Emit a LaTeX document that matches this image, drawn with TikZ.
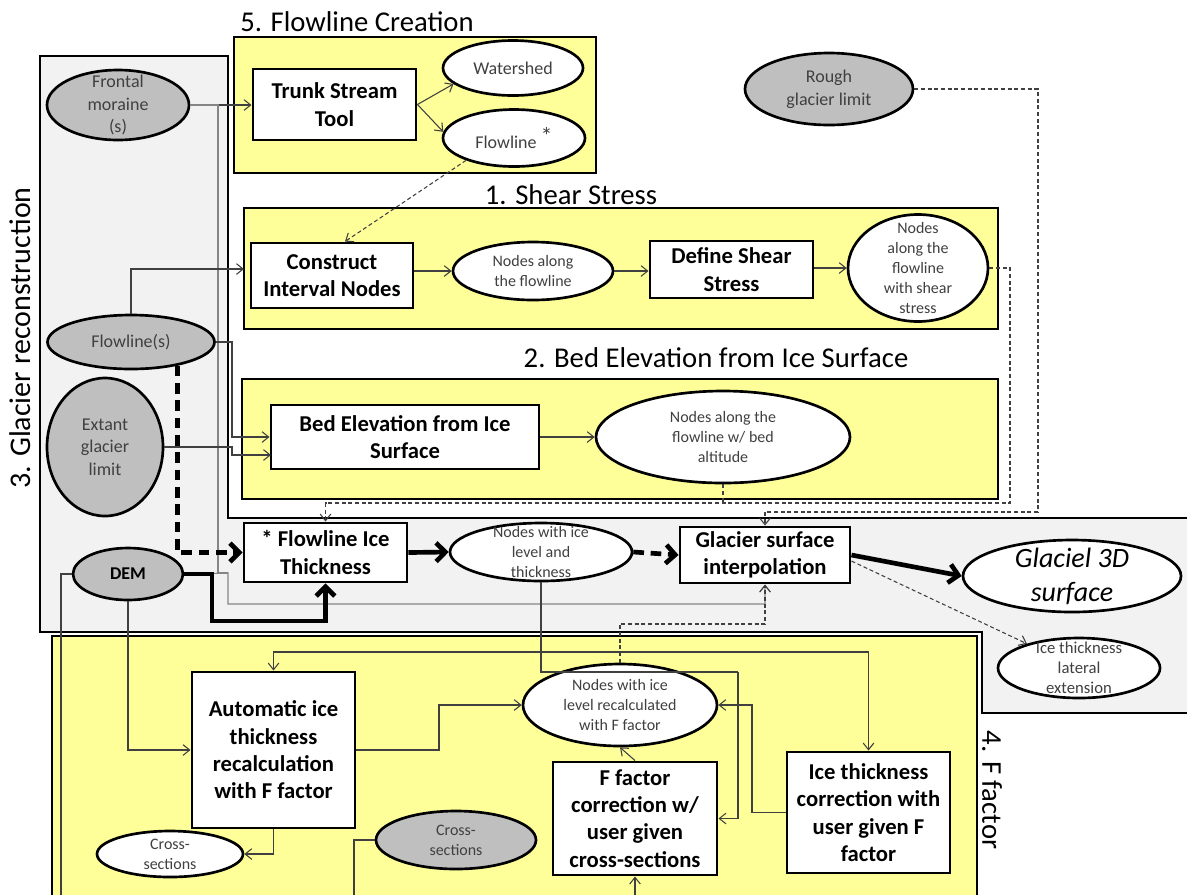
\documentclass[tikz,border=0pt]{standalone}
\usepackage{fontspec}
\setmainfont{Carlito}
\usetikzlibrary{shapes.geometric,arrows.meta}
\definecolor{yel}{HTML}{FFFF99}
\definecolor{gnode}{HTML}{BFBFBF}
\definecolor{greg}{HTML}{F2F2F2}
\definecolor{tgray}{HTML}{404040}
\definecolor{lcol}{HTML}{404040}
\definecolor{lgray}{HTML}{858585}
\begin{document}
\begin{tikzpicture}[x=0.75pt,y=-0.75pt,
  pbox/.style={draw, line width=2.2pt, fill=white, align=center, inner sep=0pt, font=\fontsize{17}{20.5}\selectfont\bfseries},
  ellw/.style={ellipse, draw, line width=2pt, fill=white, inner sep=0pt},
  ellg/.style={ellipse, draw, line width=2pt, fill=gnode, inner sep=0pt},
  etx/.style={align=center, text=tgray, font=\fontsize{13.5}{17}\selectfont, inner sep=0pt},
  esm/.style={align=center, text=tgray, font=\fontsize{12}{15}\selectfont, inner sep=0pt},
  sect/.style={draw, line width=2.2pt, fill=yel, inner sep=0pt},
  ttl/.style={font=\fontsize{21.5}{25}\selectfont, inner sep=0pt},
  ln/.style={draw=lcol, line width=0.8pt},
  lnl/.style={draw=lgray, line width=0.8pt},
  dsh/.style={draw=lcol, line width=0.8pt, dash pattern=on 3pt off 2pt},
  arr/.style={-{Straight Barb[length=5pt,width=8pt]}},
  thk/.style={draw=black, line width=3.5pt},
  thkd/.style={draw=black, line width=3.5pt, dash pattern=on 8pt off 5pt},
  arrb/.style={-{Straight Barb[length=7pt,width=14pt]}}
]
\useasboundingbox (0,0) rectangle (1187,894);
\clip (0,0) rectangle (1187,894);

% region 3 (gray)
\draw[fill=greg, draw=black, line width=1.3pt]
  (40,56) -- (228,56) -- (228,518) -- (1195,518) -- (1195,713) -- (982,713) -- (982,632) -- (40,632) -- cycle;

% sections
\node[sect, minimum width=271.5pt, minimum height=102pt] (sec5) at (415,105) {};
\node[sect, minimum width=565.5pt, minimum height=90.75pt] (sec1) at (621,268.5) {};
\node[sect, minimum width=567pt, minimum height=90pt] (sec2) at (620,439) {};
\node[sect, minimum width=693.75pt, minimum height=205.5pt] (sec4) at (514.5,773) {};

% titles
\node[ttl] (t5) at (357,22) {5. Flowline Creation};
\node[ttl] (t1) at (571,195) {1. Shear Stress};
\node[ttl] (t2) at (716,358) {2. Bed Elevation from Ice Surface};
\node[ttl, font=\fontsize{22.5}{25}\selectfont, rotate=90] (t3) at (20,338) {3. Glacier reconstruction};
\node[ttl, rotate=-90] (t4) at (992,790) {4. F factor};

% ellipse shapes
\node[ellg, minimum width=106.5pt, minimum height=52.5pt] (frontal) at (118,105) {};
\node[ellw, minimum width=105pt, minimum height=41.25pt] (watershed) at (513,68) {};
\node[ellw, minimum width=106.5pt, minimum height=42.75pt] (flowlinestar) at (514,138) {};
\node[ellg, minimum width=126pt, minimum height=54pt] (rough) at (829,89) {};
\node[ellw, minimum width=120pt, minimum height=43.5pt] (nodesalong) at (533,271) {};
\node[ellw, minimum width=105pt, minimum height=80.25pt] (nodesshear) at (918,268) {};
\node[ellw, minimum width=190.5pt, minimum height=69pt] (bednodes) at (723,437) {};
\node[ellg, minimum width=125.25pt, minimum height=40.5pt] (flowlines) at (131,342) {};
\node[ellg, minimum width=87pt, minimum height=103.5pt] (extant) at (105,447) {};
\node[ellg, minimum width=82.5pt, minimum height=39pt] (dem) at (128,574) {};
\node[ellw, minimum width=136.5pt, minimum height=43.5pt] (nodesice) at (541,552) {};
\node[ellw, minimum width=163.5pt, minimum height=54pt] (g3d) at (1072,576) {};
\node[ellw, minimum width=121.5pt, minimum height=45pt] (lateral) at (1079,668) {};
\node[ellw, minimum width=109.5pt, minimum height=34.5pt] (crosswhite) at (170,854) {};
\node[ellg, minimum width=120pt, minimum height=43.5pt] (crossgray) at (456,840) {};
\node[ellw, minimum width=145.5pt, minimum height=61.5pt] (recalc) at (620,705) {};

% process boxes
\node[pbox, minimum width=122.25pt, minimum height=53.25pt] (trunk) at (334.5,104.5) {Trunk Stream\\Tool};
\node[pbox, minimum width=121.5pt, minimum height=48.75pt] (construct) at (332,275.5) {Construct\\Interval Nodes};
\node[pbox, minimum width=122.25pt, minimum height=42.75pt] (define) at (731.5,269.5) {Define Shear\\Stress};
\node[pbox, minimum width=201pt, minimum height=48pt] (bed) at (405,437) {Bed Elevation from Ice\\Surface};
\node[pbox, minimum width=122.25pt, minimum height=44.25pt] (fit) at (325.5,552.5) {* Flowline Ice\\Thickness};
\node[pbox, minimum width=127.5pt, minimum height=42pt] (gsi) at (765,555) {Glacier surface\\interpolation};
\node[pbox, minimum width=122.25pt, minimum height=117pt] (auto) at (273.5,750) {Automatic ice\\thickness\\recalculation\\with F factor};
\node[pbox, minimum width=123pt, minimum height=84.75pt] (ffc) at (635,818.5) {F factor\\correction w/\\user given\\cross-sections};
\node[pbox, minimum width=122.25pt, minimum height=90.75pt] (itc) at (868.5,812.5) {Ice thickness\\correction with\\user given F\\factor};

% helper coordinates
\coordinate (c269) at (244,269);
\coordinate (y503) at (0,503);
\coordinate (y604) at (0,604);
\coordinate (y624) at (0,624);
\coordinate (y652) at (0,652);
\coordinate (ybot) at (0,900);
\coordinate (b455) at (271,455);

% connectors - section 5
\draw[ln,arr] (frontal.east) -- (trunk.west |- frontal.east);
\draw[ln,arr] (trunk.east) -- (watershed.195);
\draw[ln,arr] (trunk.east) -- (flowlinestar.175);
\draw[dsh,arr] (flowlinestar.205) -- ([xshift=9.75pt]construct.north);
\draw[lnl] (frontal.east) -| (218,573) -- (228,573);
\draw[lnl,arr] (dem.east) -- (228,573) |- (gsi.south |- y604) -- (gsi.south);

% section 1
\draw[ln,arr] (flowlines.north) |- (c269);
\draw[ln,arr] (construct.east |- nodesalong.west) -- (nodesalong.west);
\draw[ln,arr] (nodesalong.east) -- (define.west |- nodesalong.east);
\draw[ln,arr] (define.east |- nodesshear.west) -- (nodesshear.west);
\draw[dsh,arr] (nodesshear.east) -| (1010,503) -| (fit.north);
\draw[dsh] (bednodes.south) -- (bednodes.south |- y503);
\draw[dsh,arr] (rough.east) -| (1038,512) -| (gsi.north);

% section 2
\draw[ln,arr] (flowlines.east) -| (232,437) -- (bed.west);
\draw[ln,arr] (extant.east) -- (232,447) |- (b455);
\draw[ln,arr] (bed.east) -- (bednodes.west);

% main line
\draw[thkd,arrb] (flowlines.-27.5) |- (fit.west);
\draw[thk,arrb] (dem.east) -| (212,621) -| (fit.south);
\draw[thk,arrb] (fit.east) -- (nodesice.west);
\draw[thkd,arrb] (nodesice.east) -- (gsi.west);
\draw[thk,arrb] (gsi.east) -- (g3d.west);
\draw[dsh,arr] (gsi.-4) -- (lateral.155);

% section 4
\draw[ln] (nodesice.south) -- (541,672) -- (738,672);
\draw[ln,arr] (738,672) |- (ffc.east);
\draw[ln,arr] (nodesice.south |- y652) -| (auto.north);
\draw[ln,arr] (nodesice.south |- y652) -| (itc.north);
\draw[dsh,arr] (recalc.north) |- (gsi.south |- y624) -- (gsi.south);
\draw[ln,arr] (auto.east) -- (439,750) |- (recalc.west);
\draw[ln,arr] (auto.south) |- (crosswhite.east);
\draw[ln,arr] (dem.south) |- (auto.west);
\draw[ln] (dem.west) -| (61,900);
\draw[ln] (crossgray.west) -| (354,900);
\draw[ln,arr] (ffc.south |- ybot) -- (ffc.south);
\draw[ln,arr] (ffc.north) -- (recalc.south);
\draw[ln,arr] (itc.west) -- (752,812.5) |- (recalc.east);

% ellipse texts
\node[etx] (frontal-t) at (frontal.center) {Frontal\\moraine\\(s)};
\node[etx] (watershed-t) at (watershed.center) {Watershed};
\node[etx] (flowlinestar-t) at (flowlinestar.center) {Flowline~\raisebox{3pt}{\fontsize{18}{18}\selectfont *}};
\node[etx] (rough-t) at (rough.center) {Rough\\glacier limit};
\node[esm] (nodesalong-t) at (nodesalong.center) {Nodes along\\the flowline};
\node[esm] (nodesshear-t) at (nodesshear.center) {Nodes\\along the\\flowline\\with shear\\stress};
\node[esm] (bednodes-t) at (bednodes.center) {Nodes along the\\flowline w/ bed\\altitude};
\node[etx] (flowlines-t) at (flowlines.center) {Flowline(s)};
\node[etx] (extant-t) at (extant.center) {Extant\\glacier\\limit};
\node[etx, text=black, font=\fontsize{13.5}{17}\selectfont\bfseries] (dem-t) at (dem.center) {DEM};
\node[esm] (nodesice-t) at (nodesice.center) {Nodes with ice\\level and\\thickness};
\node[align=center, inner sep=0pt, font=\fontsize{21}{25.5}\selectfont\itshape] (g3d-t) at (g3d.center) {Glaciel 3D\\surface};
\node[esm, font=\fontsize{12.5}{15}\selectfont] (lateral-t) at (lateral.center) {Ice thickness\\lateral\\extension};
\node[esm] (crosswhite-t) at (crosswhite.center) {Cross-\\sections};
\node[esm] (crossgray-t) at (crossgray.center) {Cross-\\sections};
\node[esm] (recalc-t) at (recalc.center) {Nodes with ice\\level recalculated\\with F factor};
\end{tikzpicture}
\end{document}
